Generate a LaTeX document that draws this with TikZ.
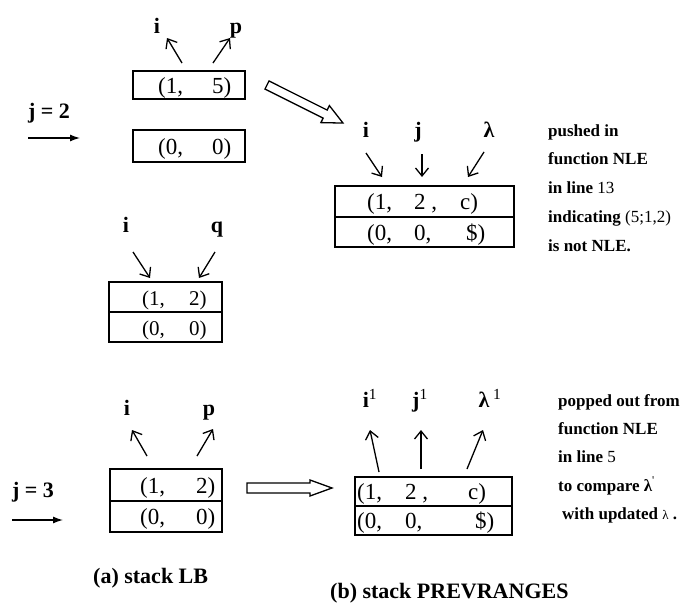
\documentclass[tikz,border=0pt]{standalone}
\usepackage{fontspec}
\setmainfont{Liberation Serif}
\usetikzlibrary{arrows.meta}
\tikzset{
  cell/.style={font=\fontsize{23}{23}\selectfont, inner sep=0pt, anchor=base west},
  smallcell/.style={cell, font=\fontsize{21}{21}\selectfont},
  lbl/.style={font=\bfseries\fontsize{22}{22}\selectfont, inner sep=0pt, anchor=base},
  note/.style={font=\bfseries\fontsize{17}{17}\selectfont, inner sep=0pt, anchor=base west},
  caption/.style={font=\bfseries\fontsize{22}{22}\selectfont, inner sep=0pt, anchor=base west},
  ptr/.style={-{Straight Barb[length=8pt,width=13pt]}, line width=1.3pt},
  feed/.style={-{Latex[length=10pt,width=7pt]}, line width=1.3pt},
  stackbox/.style={draw, line width=1.2pt},
  fatarrow/.style={draw, line width=1.3pt, fill=white, line join=miter},
}
\begin{document}
\begin{tikzpicture}[x=1pt,y=-1pt]
\useasboundingbox (0,0) rectangle (686,608);

% ---------- (a) top: j = 2 ----------
\node[lbl] (j2) at (49,118) {j = 2};
\coordinate (j2s) at (28,138);
\coordinate (j2e) at (80,138);
\draw[feed] (j2s) -- (j2e);

\draw[stackbox] (133,71) rectangle (245,99);
\draw[stackbox] (133,130) rectangle (245,162);
\node[cell] (ta1) at (158,93) {(1,};
\node[cell] (ta2) at (212,93) {5)};
\node[cell] (tb1) at (158,154) {(0,};
\node[cell] (tb2) at (212,154) {0)};

\node[lbl] (ti) at (157,33) {i};
\node[lbl] (tp) at (236,33) {p};
\coordinate (tis) at (182,63); \coordinate (tie) at (167,38);
\coordinate (tps) at (213,63); \coordinate (tpe) at (230,38);
\draw[ptr] (tis) -- (tie);
\draw[ptr] (tps) -- (tpe);

% hollow arrow towards PREVRANGES
\begin{scope}[shift={(267,85)}, rotate=-26.6]
  \draw[fatarrow] (0,-4.5) -- (65,-4.5) -- (65,-9.5) -- (85,0) -- (65,9.5) -- (65,4.5) -- (0,4.5) -- cycle;
\end{scope}

% ---------- (b) top: pushed entry ----------
\draw[stackbox] (335,186) rectangle (514,247);
\draw[stackbox] (335,217) -- (514,217);
\node[cell] (ra1) at (367,209) {(1,};
\node[cell] (ra2) at (414,209) {2 ,};
\node[cell] (ra3) at (460,209) {c)};
\node[cell] (rb1) at (367,240) {(0,};
\node[cell] (rb2) at (414,240) {0,};
\node[cell] (rb3) at (466,240) {\$)};

\node[lbl] (ri) at (366,137) {i};
\node[lbl] (rj) at (418,137) {j};
\node[lbl] (rl) at (489,137) {λ};
\coordinate (ris) at (366,153); \coordinate (rie) at (382,177);
\coordinate (rjs) at (422,154); \coordinate (rje) at (422,177);
\coordinate (rls) at (484,152); \coordinate (rle) at (468,177);
\draw[ptr] (ris) -- (rie);
\draw[ptr] (rjs) -- (rje);
\draw[ptr] (rls) -- (rle);

\node[note] (n1) at (548,136) {pushed in};
\node[note] (n2) at (548,164) {function NLE};
\node[note] (n3) at (548,193) {in line \mdseries 13};
\node[note] (n4) at (548,222) {indicating \mdseries (5;1,2)};
\node[note] (n5) at (548,251) {is not NLE.};

% ---------- (a) middle ----------
\draw[stackbox] (109,282) rectangle (222,342);
\draw[stackbox] (109,312) -- (222,312);
\node[smallcell] (ma1) at (142,305) {(1,};
\node[smallcell] (ma2) at (189,305) {2)};
\node[smallcell] (mb1) at (142,335) {(0,};
\node[smallcell] (mb2) at (189,335) {0)};

\node[lbl] (mi) at (126,232) {i};
\node[lbl] (mq) at (217,232) {q};
\coordinate (mis) at (133,252); \coordinate (mie) at (150,278);
\coordinate (mqs) at (215,252); \coordinate (mqe) at (199,278);
\draw[ptr] (mis) -- (mie);
\draw[ptr] (mqs) -- (mqe);

% ---------- (a) bottom: j = 3 ----------
\node[lbl] (j3) at (33,497) {j = 3};
\coordinate (j3s) at (12,520);
\coordinate (j3e) at (63,520);
\draw[feed] (j3s) -- (j3e);

\draw[stackbox] (110,469) rectangle (222,532);
\draw[stackbox] (110,501) -- (222,501);
\node[cell] (ba1) at (140,493) {(1,};
\node[cell] (ba2) at (196,493) {2)};
\node[cell] (bb1) at (140,524) {(0,};
\node[cell] (bb2) at (196,524) {0)};

\node[lbl] (bi) at (127,415) {i};
\node[lbl] (bp) at (209,415) {p};
\coordinate (bis) at (147,456); \coordinate (bie) at (132,430);
\coordinate (bps) at (197,456); \coordinate (bpe) at (213,429);
\draw[ptr] (bis) -- (bie);
\draw[ptr] (bps) -- (bpe);

% hollow arrow towards PREVRANGES
\begin{scope}[shift={(247,488)}]
  \draw[fatarrow] (0,-5) -- (63,-5) -- (63,-8) -- (85,0) -- (63,8) -- (63,5) -- (0,5) -- cycle;
\end{scope}

% ---------- (b) bottom: popped entry ----------
\draw[stackbox] (355,477) rectangle (512,535);
\draw[stackbox] (355,506) -- (512,506);
\node[cell] (qa1) at (357,499) {(1,};
\node[cell] (qa2) at (405,499) {2 ,};
\node[cell] (qa3) at (468,499) {c)};
\node[cell] (qb1) at (357,528) {(0,};
\node[cell] (qb2) at (405,528) {0,};
\node[cell] (qb3) at (475,528) {\$)};

\node[lbl] (qi) at (370,407) {i\textsuperscript{\mdseries 1}};
\node[lbl] (qj) at (420,407) {j\textsuperscript{\mdseries 1}};
\node[lbl] (ql) at (490,407) {λ\,\textsuperscript{\mdseries 1}};
\coordinate (qis) at (379,472); \coordinate (qie) at (370,430);
\coordinate (qjs) at (421,469); \coordinate (qje) at (421,430);
\coordinate (qls) at (467,469); \coordinate (qle) at (483,430);
\draw[ptr] (qis) -- (qie);
\draw[ptr] (qjs) -- (qje);
\draw[ptr] (qls) -- (qle);

\node[note] (p1) at (558,406) {popped out from};
\node[note] (p2) at (558,434) {function NLE};
\node[note] (p3) at (558,462) {in line \mdseries 5};
\node[note] (p4) at (558,491) {to compare λ\textsuperscript{\mdseries\textquotesingle}};
\node[note] (p5) at (562,519) {with updated {\mdseries\fontsize{13}{13}\selectfont λ} .};

% ---------- captions ----------
\node[caption] (capa) at (93,583) {(a) stack LB};
\node[caption] (capb) at (330,598) {(b) stack PREVRANGES};
\end{tikzpicture}
\end{document}
